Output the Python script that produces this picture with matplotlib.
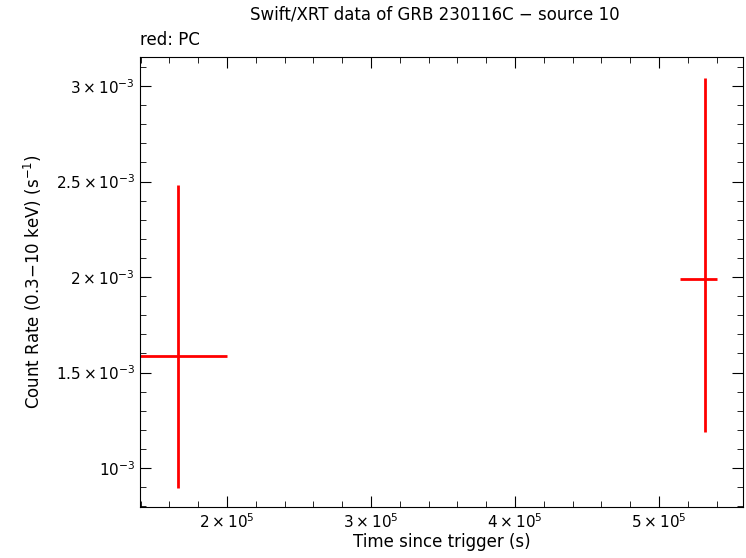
import matplotlib
matplotlib.use("Agg")
import matplotlib.pyplot as plt
from matplotlib.ticker import FixedLocator, FixedFormatter, MultipleLocator

# PC data points
t = [1.66e5, 5.32e5]
t_lo = [1.38e5, 5.146e5]
t_hi = [2.00e5, 5.403e5]
rate = [1.586e-3, 1.99e-3]
rate_lo = [0.895e-3, 1.19e-3]
rate_hi = [2.48e-3, 3.04e-3]

xticks = [2e5, 3e5, 4e5, 5e5]
xlabels = [r"$2\times10^5$", r"$3\times10^5$", r"$4\times10^5$", r"$5\times10^5$"]
yticks = [1e-3, 1.5e-3, 2e-3, 2.5e-3, 3e-3]
ylabels = [r"$10^{-3}$", r"$1.5\times10^{-3}$", r"$2\times10^{-3}$",
           r"$2.5\times10^{-3}$", r"$3\times10^{-3}$"]

fig = plt.figure(figsize=(7.46, 5.58), dpi=100)
ax = fig.add_axes([140 / 746, 1 - 507 / 558, 603 / 746, 450 / 558])

xerr = [[a - b for a, b in zip(t, t_lo)], [b - a for a, b in zip(t, t_hi)]]
yerr = [[a - b for a, b in zip(rate, rate_lo)], [b - a for a, b in zip(rate, rate_hi)]]
ax.errorbar(t, rate, xerr=xerr, yerr=yerr, fmt="none", ecolor="red", elinewidth=2, capsize=0)

ax.set_xlim(1.396e5, 5.583e5)
ax.set_ylim(0.796e-3, 3.152e-3)
ax.xaxis.set_major_locator(FixedLocator(xticks))
ax.xaxis.set_major_formatter(FixedFormatter(xlabels))
ax.xaxis.set_minor_locator(MultipleLocator(2e4))
ax.yaxis.set_major_locator(FixedLocator(yticks))
ax.yaxis.set_major_formatter(FixedFormatter(ylabels))
ax.yaxis.set_minor_locator(MultipleLocator(1e-4))
ax.tick_params(which="both", direction="in", top=True, right=True, labelsize=11)
ax.tick_params(which="major", length=8)
ax.tick_params(which="minor", length=4)

ax.set_xlabel("Time since trigger (s)", fontsize=12, labelpad=2)
ax.set_ylabel(r"Count Rate (0.3$-$10 keV) (s$^{-1}$)", fontsize=12)
ax.yaxis.set_label_coords(-0.16, 0.5)
fig.text(435 / 746, 0.965, "Swift/XRT data of GRB 230116C \u2212 source 10", ha="center", fontsize=12)
fig.text(140 / 746, 0.92, "red: PC", ha="left", fontsize=12)

fig.savefig("out.png", dpi=100)
